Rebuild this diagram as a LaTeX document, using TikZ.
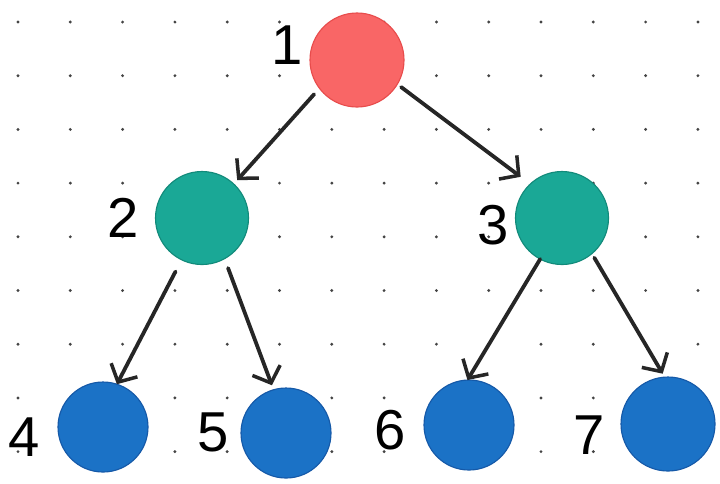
\documentclass[tikz,border=0pt]{standalone}
\usepackage{fontspec}
\setmainfont{Liberation Sans}
\usetikzlibrary{arrows.meta}
\definecolor{cred}{HTML}{F96666}
\definecolor{credd}{HTML}{E84C4C}
\definecolor{cteal}{HTML}{1AA896}
\definecolor{ctealdk}{HTML}{128A7A}
\definecolor{cblue}{HTML}{1B72C6}
\definecolor{cbluedk}{HTML}{1559A8}
\definecolor{cdot}{HTML}{444444}
\tikzset{
  ball/.style={circle, inner sep=0pt, outer sep=0pt, line width=0.8pt},
  redball/.style={ball, fill=cred, draw=credd, minimum size=94*0.025cm},
  tealball/.style={ball, fill=cteal, draw=ctealdk, minimum size=93*0.025cm},
  blueball/.style={ball, fill=cblue, draw=cbluedk, minimum size=90*0.025cm},
  lbl/.style={font=\fontsize{40}{40}\selectfont, text=black, inner sep=0pt},
  arr/.style={line width=2.7pt, draw=black!85, line cap=round,
    -{Straight Barb[length=3.4mm, width=7.4mm, line width=2.5pt]}},
  griddot/.style={fill=cdot}
}
\begin{document}
\begin{tikzpicture}[x=0.025cm, y=-0.025cm]
\useasboundingbox (0,0) rectangle (720,483);
\fill[white] (0,0) rectangle (720,483);
% dot grid
\foreach \i in {0,...,13}{
  \foreach \j in {0,...,8}{
    \fill[griddot] ({18+52.3*\i},{22+53.7*\j}) circle (1.6);
  }
}
% nodes
\node[redball]  (n1) at (357,60) {};
\node[tealball] (n2) at (202,218) {};
\node[tealball] (n3) at (562,218) {};
\node[blueball] (n4) at (103,427) {};
\node[blueball] (n5) at (286,433) {};
\node[blueball] (n6) at (469,425) {};
\node[blueball, minimum size=94*0.025cm] (n7) at (668,424) {};
% labels
\node[lbl] (l1) at (287,45) {1};
\node[lbl] (l2) at (123,218) {2};
\node[lbl] (l3) at (493,225) {3};
\node[lbl] (l4) at (24,437) {4};
\node[lbl] (l5) at (213,432) {5};
\node[lbl] (l6) at (390,430) {6};
\node[lbl] (l7) at (589,435) {7};
% arrows
\draw[arr, shorten <=0.2cm, shorten >=0.13cm] (n1.217) -- (n2.47);
\draw[arr, shorten <=0.12cm, shorten >=0.3cm] (n1.329) -- (n3.133);
\draw[arr, shorten <=0.33cm, shorten >=0.0cm] (n2.244) -- (n4.72);
\draw[arr, shorten <=0.25cm, shorten >=0.12cm] (n2.299) -- (n5.106);
\draw[arr, shorten <=0.0cm, shorten >=0.0cm] (n3.242) -- (n6.92);
\draw[arr, shorten <=0.12cm, shorten >=0.1cm] (n3.310) -- (n7.94);
\end{tikzpicture}
\end{document}
